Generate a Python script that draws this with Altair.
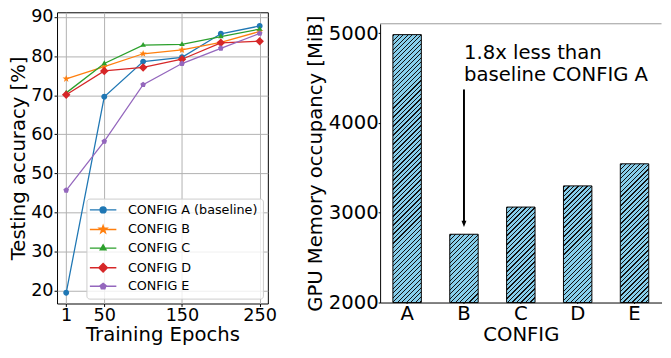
import altair as alt
import pandas as pd

# ---------------- data ----------------
epochs = [1, 50, 100, 150, 200, 250]
configs = ["CONFIG A (baseline)", "CONFIG B", "CONFIG C", "CONFIG D", "CONFIG E"]
acc_a = [19.5, 69.6, 78.6, 79.7, 85.7, 87.7]
acc_b = [74.2, 77.3, 80.6, 81.6, 83.5, 86.3]
acc_c = [70.6, 78.1, 82.8, 83.0, 85.0, 86.9]
acc_d = [70.1, 76.2, 77.1, 79.2, 83.4, 83.8]
acc_e = [45.7, 58.2, 72.7, 78.1, 82.0, 85.8]

bar_cats = ["A", "B", "C", "D", "E"]
bar_mem = [4986, 2761, 3064, 3300, 3546]

ann_text = ["1.8x less than\nbaseline CONFIG A"]
ann_x = ["B"]
ann_y = [4715]
arrow_from = [4375]
arrow_to = [2905]
arrow_tip = [2877]

# ---------------- styles ----------------
FONT = "DejaVu Sans"
colors = ["#1f77b4", "#ff7f0e", "#2ca02c", "#d62728", "#9467bd"]
marker_paths = [
    "M1,0A1,1,0,1,1,-1,0A1,1,0,1,1,1,0Z",
    "M0,-1.3L0.31,-0.42L1.24,-0.4L0.49,0.16L0.76,1.05L0,0.52L-0.76,1.05L-0.49,0.16L-1.24,-0.4L-0.31,-0.42Z",
    "M0,-1.1L0.95,0.55L-0.95,0.55Z",
    "M0,-1.45L1.45,0L0,1.45L-1.45,0Z",
    "M0,-1L0.95,-0.31L0.59,0.81L-0.59,0.81L-0.95,-0.31Z",
]
legend_paths = ["M-4.5,0H4.5" + p for p in marker_paths]

acc_series = [acc_a, acc_b, acc_c, acc_d, acc_e]
rows = []
for cfg, vals in zip(configs, acc_series):
    for e, v in zip(epochs, vals):
        rows.append({"epoch": e, "acc": v, "config": cfg})
df_acc = pd.DataFrame(rows)

L_W, L_H = 215, 297
R_W, R_H = 287, 296
R_TOP = 11.7
R_BOT = 296
Y_DOM = [2000, 5107]

legend = alt.Legend(
    title=None, orient="bottom-right", offset=5, labelFont=FONT, labelFontSize=13,
    labelColor="black", symbolSize=36, symbolStrokeWidth=1.5, rowPadding=5,
    padding=5, strokeColor="#cccccc", fillColor="rgba(255,255,255,0.8)", cornerRadius=3,
    symbolOffset=5.5, labelOffset=18.8,
)

x_enc = alt.X("epoch:Q", scale=alt.Scale(domain=[-10.8, 260.5], nice=False, zero=False),
              axis=alt.Axis(values=[1, 50, 150, 250], title="Training Epochs", grid=True,
                            gridColor="#b0b0b0", gridWidth=1, domain=False, tickColor="black",
                            tickSize=3, labelPadding=0, labelFontSize=18, titleFontSize=20,
                            labelFont=FONT, titleFont=FONT, titleFontWeight="normal",
                            labelColor="black", titleColor="black", titlePadding=1,
                            labelFlush=False))
y_enc = alt.Y("acc:Q", scale=alt.Scale(domain=[16.75, 91.2], nice=False, zero=False),
              axis=alt.Axis(values=[20, 30, 40, 50, 60, 70, 80, 90], title="Testing accuracy [%]",
                            grid=True, gridColor="#b0b0b0", gridWidth=1, domain=False,
                            tickColor="black", tickSize=3, labelPadding=1, labelFontSize=18,
                            titleFontSize=20, labelFont=FONT, titleFont=FONT,
                            titleFontWeight="normal", labelColor="black", titleColor="black",
                            titlePadding=2, labelFlush=False))
col_enc = alt.Color("config:N", scale=alt.Scale(domain=configs, range=colors), legend=None)
shape_enc = alt.Shape("config:N", scale=alt.Scale(domain=configs, range=marker_paths), legend=None)

lines = alt.Chart(df_acc).mark_line(strokeWidth=1.3).encode(
    x=x_enc, y=y_enc, color=col_enc, detail="config:N")
points = alt.Chart(df_acc).mark_point(filled=True, size=36, opacity=1).encode(
    x=x_enc, y=y_enc, color=col_enc, shape=shape_enc)
legend_layer = alt.Chart(df_acc).mark_point(filled=True, size=0, opacity=1, strokeWidth=1.5).encode(
    x=x_enc, y=y_enc,
    fill=alt.Fill("config:N", scale=alt.Scale(domain=configs, range=colors), legend=legend),
    stroke=alt.Stroke("config:N", scale=alt.Scale(domain=configs, range=colors), legend=legend),
    shape=alt.Shape("config:N", scale=alt.Scale(domain=configs, range=legend_paths), legend=legend),
)
left = alt.layer(lines, points, legend_layer).resolve_scale(
    shape="independent", fill="independent", stroke="independent").properties(
    width=L_W, height=L_H, view=alt.ViewBackground(stroke="black", strokeWidth=1))

# ---------------- right panel ----------------
df_bar = pd.DataFrame({"config": bar_cats, "mem": bar_mem})
step = R_W / 4.95
bw = step * 0.5
BLUE = "#87ceeb"
BLACK = "#111111"


def hatch(h, w=bw, period=4.6, thick=1.35):
    L = w + h
    lam = L / (w * w + h * h)
    stops = []
    pos = 1.0
    while pos < L:
        a = pos / L
        b = min((pos + thick) / L, 1.0)
        stops += [{"offset": a, "color": BLUE}, {"offset": a, "color": BLACK},
                  {"offset": b, "color": BLACK}, {"offset": b, "color": BLUE}]
        pos += period
    if not stops:
        stops = [{"offset": 0, "color": BLUE}, {"offset": 1, "color": BLUE}]
    return {"gradient": "linear", "x1": 0, "y1": 0, "x2": lam * w, "y2": lam * h,
            "stops": stops}


xr = alt.X("config:N", scale=alt.Scale(domain=bar_cats, paddingInner=0.5, paddingOuter=0.225),
           axis=alt.Axis(title="CONFIG", labelAngle=0, domainColor="black", tickColor="black",
                         tickSize=1, labelPadding=0, labelFontSize=20, titleFontSize=20,
                         labelFont=FONT, titleFont=FONT, titleFontWeight="normal",
                         labelColor="black", titleColor="black", titlePadding=2))
yr = alt.Y("mem:Q", scale=alt.Scale(domain=Y_DOM, range=[R_BOT, R_TOP], nice=False, zero=False),
           axis=alt.Axis(values=[2000, 3000, 4000, 5000], format="d",
                         title="GPU Memory occupancy [MiB]",
                         grid=False, domainColor="black", tickColor="black", tickSize=2,
                         labelPadding=0, labelFontSize=20, titleFontSize=20, labelFont=FONT,
                         titleFont=FONT, titleFontWeight="normal", labelColor="black",
                         titleColor="black", titlePadding=2.5))

bar_layers = []
for cat, v in zip(bar_cats, bar_mem):
    h = (v - Y_DOM[0]) / (Y_DOM[1] - Y_DOM[0]) * (R_BOT - R_TOP)
    bar_layers.append(
        alt.Chart(df_bar).transform_filter(alt.datum.config == cat)
        .mark_bar(fill=hatch(h), stroke="black", strokeWidth=1)
        .encode(x=xr, y=yr, y2=alt.datum(Y_DOM[0]))
    )

df_ann = pd.DataFrame({"config": ann_x, "mem": ann_y, "label": ann_text,
                       "a0": arrow_from, "a1": arrow_to, "tip": arrow_tip})
top_border = alt.Chart(df_ann).mark_rule(color="#999999", strokeWidth=1).encode(
    y=alt.datum(Y_DOM[1]))
text = alt.Chart(df_ann).mark_text(align="left", baseline="alphabetic", font=FONT, fontSize=20,
                                   lineBreak="\n", lineHeight=22, color="black").encode(
    x=xr, y=alt.Y("mem:Q"), text="label:N")
arrow = alt.Chart(df_ann).mark_rule(color="black", strokeWidth=2).encode(
    x=xr, y=alt.Y("a0:Q"), y2="a1:Q")
head = alt.Chart(df_ann).mark_point(shape="M-1,-1.3L1,-1.3L0,1.3Z", filled=True, size=25,
                                    color="black", opacity=1).encode(x=xr, y=alt.Y("tip:Q"))

right = alt.layer(*bar_layers, top_border, arrow, head, text).properties(
    width=R_W, height=R_H, view=alt.ViewBackground(stroke="transparent"))

chart = alt.hconcat(left, right, spacing=28.5).properties(
    padding={"left": 0, "top": -4, "right": 0, "bottom": 0}
).configure(font=FONT)

chart.save("out.html", embed_options={"renderer": "svg", "actions": False})
